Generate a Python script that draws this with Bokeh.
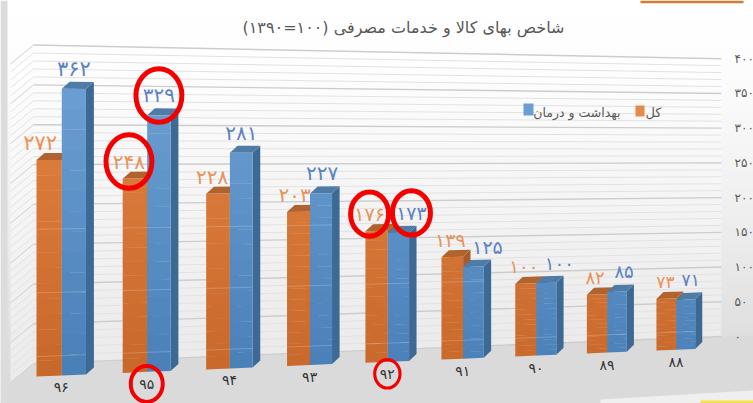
from bokeh.plotting import figure
from bokeh.embed import file_html
from bokeh.resources import INLINE
from bokeh.models import Range1d
from bokeh.core.properties import value

# ---- data ----
years = ["۹۶", "۹۵", "۹۴", "۹۳", "۹۲", "۹۱", "۹۰", "۸۹", "۸۸"]
total = [272, 248, 228, 203, 176, 139, 100, 82, 73]
health = [362, 329, 281, 227, 173, 125, 100, 85, 71]
ticks = [0, 50, 100, 150, 200, 250, 300, 350, 400]
minor = [t for t in range(0, 401, 10) if t % 50]
series_names = ["کل", "بهداشت و درمان"]
title = "\u200fشاخص بهای کالا و خدمات مصرفی (۱۰۰=۱۳۹۰)\u200f"
highlight = [1, 4]

# ---- perspective projection (layout only) ----
X0, XA, C = 36.0, 87.6, 0.0163
K = 0.796
BAR_W = 0.29
def fa(s):
    return str(s).translate(str.maketrans("0123456789", "۰۱۲۳۴۵۶۷۸۹"))
def scale(u): return 1 / (1 + C * u)
def px(u): return X0 + XA * u * scale(u)
def base(u): return 376 - 3.67 * u * scale(u)
def wall_base(u): return 363 - 3.45 * u * scale(u)
def py(u, v): return base(u) - K * v * scale(u)
def wy(u, v): return wall_base(u) - K * v * scale(u)
def mix(a, b, t):
    return "#%02x%02x%02x" % tuple(int(round(a[i] + (b[i] - a[i]) * t)) for i in range(3))

W, H = 753, 403
p = figure(width=W, height=H, output_backend="svg", toolbar_location=None,
           x_range=Range1d(0, W), y_range=Range1d(H, 0), min_border=0,
           outline_line_color=None, background_fill_color="white", border_fill_color="white")
p.axis.visible = False
p.grid.visible = False

# slide background
stops = [(0, (255, 255, 255)), (60, (253, 253, 253)), (200, (240, 240, 240)), (340, (222, 222, 222)), (403, (216, 216, 216))]
ys = list(range(0, 403, 6))
def bg(y):
    for (a, ca), (b, cb) in zip(stops, stops[1:]):
        if a <= y <= b:
            return mix(ca, cb, (y - a) / (b - a))
    return "#ffffff"
p.quad(left=0, right=W, top=ys, bottom=[y + 6.5 for y in ys], fill_color=[bg(y) for y in ys], line_color=None)

# wall and floor
UR = 8.96
p.patch([7, 10, 33, px(UR), 753, 753, 7], [385, 383, 363, wy(UR, 0), 336, 403, 403], fill_color="#dadada", line_color=None)
for k in range(20):
    v0, v1 = 400 * k / 20, 400 * (k + 1) / 20 + 0.5
    col = mix((235, 235, 235), (254, 254, 254), k / 19)
    p.patch([33, px(UR), px(UR), 33], [wy(-0.03, v0), wy(UR, v0), wy(UR, v1), wy(-0.03, v1)], fill_color=col, line_color=None)
    p.patch([10, 33, 33, 10], [wy(-0.03, v0) + 19, wy(-0.03, v0), wy(-0.03, v1), wy(-0.03, v1) + 19], fill_color=col, line_color=None)

# wall grid
for v in minor + ticks:
    maj = v in ticks
    col = "#cdcdcd" if maj else "#e2e2e2"
    wd = 1.4 if maj else 1.0
    p.line([33, px(UR)], [wy(-0.03, v), wy(UR, v)], line_color=col, line_width=wd)
    p.line([10, 33], [wy(-0.03, v) + 19, wy(-0.03, v)], line_color="#d0d0d0" if maj else "#e4e4e4", line_width=1)

# slide decorations
p.quad(left=[0], right=[7], top=[0], bottom=[H], fill_color="#dcdcdc", line_color=None)
p.patch([600, 753, 753, 600], [399, 390, 403, 403], fill_color="#efefef", line_color=None)
p.quad(left=[700], right=[753], top=[400], bottom=[403], fill_color="#f6e24a", line_color=None)
p.quad(left=[640], right=[743], top=[0], bottom=[2.7], fill_color="#d87a35", line_color=None)

# bars
ORANGE = ((226, 130, 66), (200, 104, 42))
BLUE = ((108, 160, 212), (74, 128, 184))
def bar(u0, u1, v, cols, top_c, side_c):
    xl, xr = px(u0), px(u1)
    ddx, ddy = 8 * scale(u1), 7
    p.patch([xr, xr + ddx, xr + ddx, xr],
            [py(u1, 0), py(u1, 0) - ddy, py(u1, v) - ddy, py(u1, v)], fill_color=side_c, line_color=None)
    p.patch([xl, xl + ddx, xr + ddx, xr],
            [py(u0, v), py(u0, v) - ddy, py(u1, v) - ddy, py(u1, v)], fill_color=top_c, line_color=None)
    n = 14
    for i in range(n):
        a, b = v * i / n, v * (i + 1) / n + (0.4 if i < n - 1 else 0)
        t = (py(u0, a) - 88) / (376 - 88)
        p.patch([xl, xr, xr, xl], [py(u0, a), py(u1, a), py(u1, b), py(u0, b)],
                fill_color=mix(cols[0], cols[1], min(max(t, 0), 1)), line_color=None)
    for s in (25, 105, 185):
        if s < v:
            p.line([xl, xr], [py(u0, s), py(u1, s)], line_color="white", line_alpha=0.2, line_width=1)

for i, (a, b) in enumerate(zip(total, health)):
    bar(i, i + BAR_W, a, ORANGE, "#b0622f", "#a85a28")
    bar(i + BAR_W, i + 2 * BAR_W - 0.01, b, BLUE, "#4e7ca6", "#3d6a94")

# value labels
dx_total = [-9, -6, -6, -4, -7, -2, -2, -2, -1]
dx_health = [0, 0, 0, 1, 13, 14, 13, 7, 5]
txt = {"text_align": "center", "text_baseline": "middle"}
F = value("DejaVu Sans")
for i in range(len(years)):
    for arr, off, dxs, dy, col in ((total, 0.145, dx_total, -17, "#e8935a"), (health, 0.43, dx_health, -20, "#5b82c4")):
        u = i + off
        p.text([px(u) + dxs[i]], [py(u, arr[i]) + dy], text=[fa(arr[i])], text_color=col, text_font=F,
               text_font_size="%dpx" % round(21 * scale(i) ** 1.5), **txt)

# category labels
for i, c in enumerate(years):
    u = i + 0.285
    p.text([px(u)], [base(u) + 12], text=[c], text_color="#333333", text_font=F, text_font_size="14px", **txt)

# right axis labels
for v in ticks:
    p.text([734], [wy(UR, v)], text=[fa(v)], text_color="#595959", text_font=F, text_font_size="12px",
           text_align="left", text_baseline="middle")

# title
p.text([403], [27], text=[title], text_color="#595959", text_font=F, text_font_size="16px", **txt)

# legend
p.quad(left=[523], right=[533], top=[103], bottom=[115], fill_color="#6a9fd6", line_color=None)
p.quad(left=[635], right=[644], top=[105], bottom=[116], fill_color="#e88a4a", line_color=None)
p.text([620], [112], text=[series_names[1]], text_color="#595959", text_font=F, text_font_size="12.5px",
       text_align="right", text_baseline="middle")
p.text([661], [112], text=[series_names[0]], text_color="#595959", text_font=F, text_font_size="13px",
       text_align="right", text_baseline="middle")

# red circles around highlighted items
for i in highlight:
    r = scale(i) ** 4
    for arr, off, dxs, dy in ((total, 0.145, dx_total, -17), (health, 0.43, dx_health, -20)):
        u = i + off
        p.ellipse([px(u) + dxs[i]], [py(u, arr[i]) + dy], width=49 * r, height=57 * r,
                  fill_color=None, line_color="#f50000", line_width=5)
    u = i + 0.285
    r5 = scale(i) ** 5
    p.ellipse([px(u)], [base(u) + 12], width=34.7 * r5, height=39 * r5, fill_color=None,
              line_color="#f50000", line_width=4.3 * r5)

open("out.html", "w").write(file_html(p, INLINE))
